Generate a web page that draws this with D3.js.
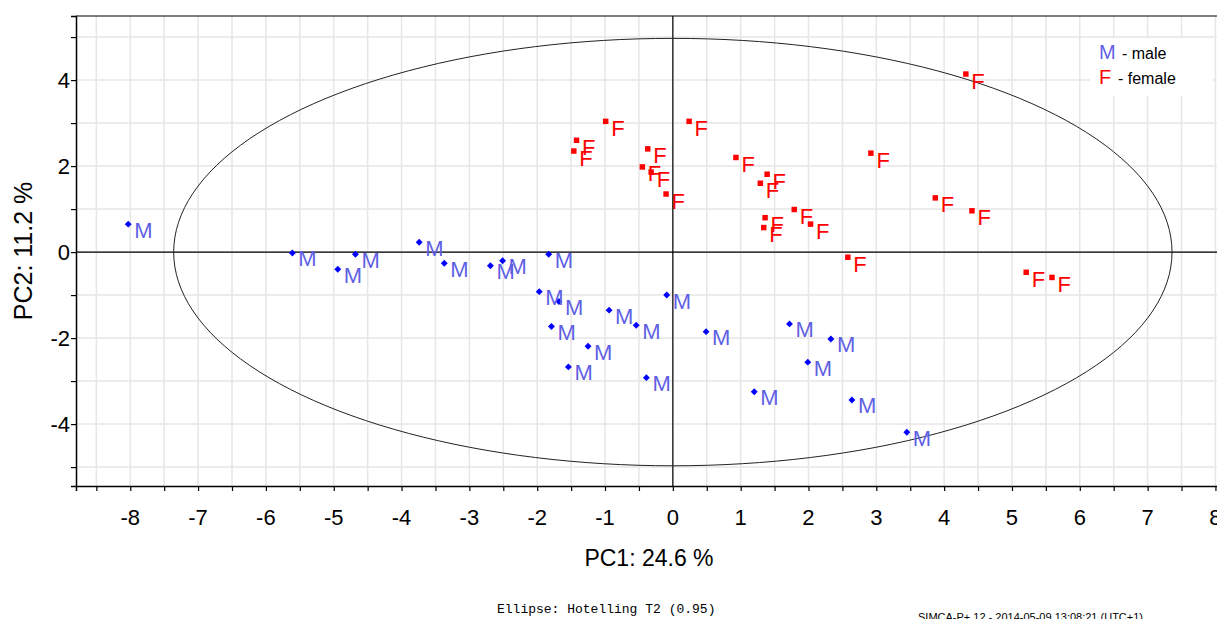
<!DOCTYPE html>
<html>
<head>
<meta charset="utf-8">
<script src="https://cdn.jsdelivr.net/npm/d3@7"></script>
<style>
    html, body { margin: 0; padding: 0; background: #fff; overflow: hidden; }
    svg { display: block; font-family: "Liberation Sans", Arial, sans-serif; }
</style>
</head>
<body>
<div id="chart"></div>
<script>
'use strict';

// PCA score plot, t[1] vs t[2]
const maleScores = [
    [-8.03, 0.65], [-5.61, -0.02], [-4.94, -0.40], [-4.68, -0.05], [-3.74, 0.23],
    [-3.37, -0.26], [-2.69, -0.32], [-2.51, -0.20], [-1.83, -0.05], [-1.97, -0.92],
    [-1.68, -1.15], [-1.79, -1.73], [-0.94, -1.35], [-0.54, -1.70], [-1.25, -2.19],
    [-1.54, -2.67], [-0.39, -2.92], [-0.09, -1.00], [0.49, -1.85], [1.20, -3.25],
    [1.72, -1.67], [1.99, -2.56], [2.33, -2.02], [2.64, -3.44], [3.45, -4.19]
];
const femaleScores = [
    [-1.42, 2.60], [-1.46, 2.35], [-0.99, 3.04], [-0.37, 2.40], [-0.45, 1.98],
    [-0.32, 1.86], [-0.10, 1.35], [0.24, 3.04], [0.93, 2.20], [1.39, 1.81],
    [1.29, 1.60], [1.36, 0.80], [1.34, 0.57], [1.79, 0.99], [2.03, 0.65],
    [4.32, 4.14], [2.92, 2.30], [3.87, 1.26], [4.41, 0.96], [2.58, -0.12],
    [5.21, -0.47], [5.59, -0.59]
];
const xTickLabels = [-8, -7, -6, -5, -4, -3, -2, -1, 0, 1, 2, 3, 4, 5, 6, 7, 8];
const yTickLabels = [-4, -2, 0, 2, 4];
const xMinorTicks = d3.range(-8.5, 8.01, 0.5);
const yMinorTicks = d3.range(-5, 5.01, 1);
const hotellingRadius = [7.36, 4.97];   // T2 (0.95) ellipse semi-axes
const legendItems = [
    {symbol: 'M', text: '- male', color: '#5f5fe4'},
    {symbol: 'F', text: '- female', color: '#ff0000'}
];

const width = 1217, height = 619;
const plot = {left: 76, top: 16, bottom: 486, right: 1229};

const svg = d3.select('#chart').append('svg')
    .attr('width', width).attr('height', height);

const x = d3.scaleLinear().domain([-8.8, 8.2]).range([plot.left, plot.right]);
const y = d3.scaleLinear().domain([-5.44, 5.49]).range([plot.bottom, plot.top]);

// grid
const grid = svg.append('g').attr('stroke', '#e6e6e6').attr('stroke-width', 1.5);
grid.selectAll('line.v').data(xMinorTicks).join('line').attr('class', 'v')
    .attr('x1', d => x(d)).attr('x2', d => x(d))
    .attr('y1', plot.top).attr('y2', plot.bottom);
grid.selectAll('line.h').data(yMinorTicks).join('line').attr('class', 'h')
    .attr('x1', plot.left).attr('x2', plot.right)
    .attr('y1', d => y(d)).attr('y2', d => y(d));

// zero lines
svg.append('line').attr('x1', x(0)).attr('x2', x(0)).attr('y1', plot.top).attr('y2', plot.bottom)
    .attr('stroke', '#000').attr('stroke-width', 1.2);
svg.append('line').attr('x1', plot.left).attr('x2', plot.right).attr('y1', y(0)).attr('y2', y(0))
    .attr('stroke', '#000').attr('stroke-width', 1.2);

// Hotelling ellipse
const ellipse = d3.range(0, 361, 2).map(a => {
    const t = a * Math.PI / 180;
    return [hotellingRadius[0] * Math.cos(t), hotellingRadius[1] * Math.sin(t)];
});
svg.append('path').datum(ellipse)
    .attr('d', d3.line().x(d => x(d[0])).y(d => y(d[1])))
    .attr('fill', 'none').attr('stroke', '#222').attr('stroke-width', 1);

// axes
const xAxis = svg.append('g').attr('transform', `translate(0,${plot.bottom})`)
    .call(d3.axisBottom(x).tickValues(xMinorTicks).tickSize(5).tickFormat(''));
const yAxis = svg.append('g').attr('transform', `translate(${plot.left},0)`)
    .call(d3.axisLeft(y).tickValues(yMinorTicks).tickSize(5).tickFormat(''));
[xAxis, yAxis].forEach(a => {
    a.select('.domain').attr('stroke', '#000').attr('stroke-width', 1.5);
    a.selectAll('.tick line').attr('stroke', '#000').attr('stroke-width', 1.2);
});
svg.append('line').attr('x1', plot.left).attr('x2', plot.right).attr('y1', plot.top).attr('y2', plot.top)
    .attr('stroke', '#000').attr('stroke-width', 1.2);

svg.append('g').selectAll('text').data(xTickLabels).join('text')
    .attr('x', d => x(d)).attr('y', 525)
    .attr('text-anchor', 'middle').attr('font-size', 22).attr('fill', '#000')
    .text(d => d);
svg.append('g').selectAll('text').data(yTickLabels).join('text')
    .attr('x', 70).attr('y', d => y(d) + 8)
    .attr('text-anchor', 'end').attr('font-size', 22).attr('fill', '#000')
    .text(d => d);

svg.append('text').attr('x', 649).attr('y', 566).attr('text-anchor', 'middle')
    .attr('font-size', 23).text('PC1: 24.6 %');
svg.append('text').attr('transform', 'translate(32,251) rotate(-90)').attr('text-anchor', 'middle')
    .attr('font-size', 25).text('PC2: 11.2 %');

// points
const diamond = d3.symbol().type(d3.symbolSquare).size(24);
const square = d3.symbol().type(d3.symbolSquare).size(30);

const males = svg.append('g');
males.selectAll('path').data(maleScores).join('path')
    .attr('d', diamond)
    .attr('transform', d => `translate(${x(d[0])},${y(d[1])}) rotate(45)`)
    .attr('fill', '#0000ff');
males.selectAll('text').data(maleScores).join('text')
    .attr('x', d => x(d[0]) + 6).attr('y', d => y(d[1]) + 13.5)
    .attr('font-size', 22).attr('fill', legendItems[0].color)
    .text('M');

const females = svg.append('g');
females.selectAll('path').data(femaleScores).join('path')
    .attr('d', square)
    .attr('transform', d => `translate(${x(d[0])},${y(d[1])})`)
    .attr('fill', '#ff0000');
females.selectAll('text').data(femaleScores).join('text')
    .attr('x', d => x(d[0]) + 5.5).attr('y', d => y(d[1]) + 14.5)
    .attr('font-size', 22).attr('fill', legendItems[1].color)
    .text('F');

// legend
const legend = svg.append('g');
legend.append('rect').attr('x', 1090).attr('y', 38).attr('width', 122).attr('height', 58).attr('fill', '#fff');
const rows = legend.selectAll('g').data(legendItems).join('g')
    .attr('transform', (d, i) => `translate(1099,${59 + i * 25})`);
rows.append('text').attr('font-size', 20).attr('fill', d => d.color).text(d => d.symbol);
rows.append('text').attr('x', (d, i) => i === 0 ? 23 : 19).attr('font-size', 16).attr('fill', '#000')
    .text(d => d.text);

// footer
svg.append('text').attr('x', 497).attr('y', 613)
    .attr('font-family', '"Liberation Mono", "Courier New", monospace').attr('font-size', 13)
    .text('Ellipse: Hotelling T2 (0.95)');
svg.append('text').attr('x', 918).attr('y', 621).attr('font-size', 10.5)
    .attr('textLength', 225).attr('lengthAdjust', 'spacingAndGlyphs')
    .text('SIMCA-P+ 12 - 2014-05-09 13:08:21 (UTC+1)');
</script>
</body>
</html>
